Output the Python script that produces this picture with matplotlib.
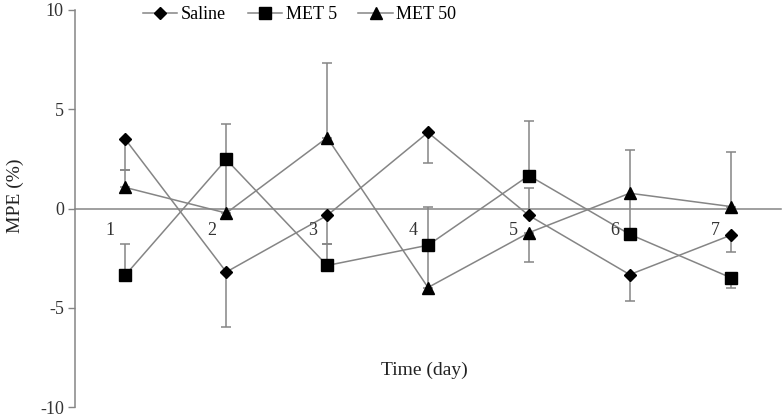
import matplotlib
matplotlib.use('Agg')

import matplotlib.pyplot as plt

plt.rcParams['font.family'] = ['Liberation Serif', 'DejaVu Serif']

# data
days = [1, 2, 3, 4, 5, 6, 7]
day_labels = ['1', '2', '3', '4', '5', '6', '7']

saline    = [3.48, -3.20, -0.35, 3.83, -0.35, -3.33, -1.35]
saline_lo = [1.52, 2.75, 1.45, 1.56, 0.0, 1.34, 0.82]
saline_hi = [0.0, 0.0, 0.0, 0.0, 1.40, 0.0, 0.0]

met5    = [-3.35, 2.47, -2.87, -1.85, 1.66, -1.30, -3.48]
met5_lo = [0.0, 0.0, 0.0, 0.0, 0.0, 0.0, 0.55]
met5_hi = [1.58, 1.81, 1.07, 0.0, 2.77, 0.0, 0.0]

met50    = [1.06, -0.23, 3.57, -3.98, -1.22, 0.77, 0.10]
met50_lo = [0.0, 0.0, 0.0, 0.0, 1.50, 2.07, 0.0]
met50_hi = [0.90, 2.70, 3.78, 4.08, 0.0, 2.20, 2.73]

yticks = [-10, -5, 0, 5, 10]

gray = '#858585'

fig = plt.figure(figsize=(7.84, 4.18), dpi=100)
ax = fig.add_axes([75/784, 1 - 407/418, (781 - 75)/784, (407 - 10)/418])

series = [
  ('Saline', saline, saline_lo, saline_hi, 'D', 6),
  ('MET 5', met5, met5_lo, met5_hi, 's', 8.5),
  ('MET 50', met50, met50_lo, met50_hi, '^', 8.5),
]

handles = []
for name, vals, lo, hi, mk, ms in series:
  ax.errorbar(days, vals, yerr=[lo, hi], fmt='none', ecolor=gray, elinewidth=1.1,
              capsize=3.5, capthick=1.1, zorder=2)
  h, = ax.plot(days, vals, color=gray, lw=1.1, marker=mk, markersize=ms,
               markerfacecolor='black', markeredgecolor='black', label=name, zorder=3)
  handles.append(h)

ax.set_xlim(0.5, 7.5)
ax.set_ylim(-10, 10)
ax.set_yticks(yticks)
ax.set_yticklabels([str(t) for t in yticks], fontsize=13, color='#333333')
ax.tick_params(axis='y', direction='out', length=5, width=1, color=gray, pad=3)
ax.set_xticks([])

ax.spines['top'].set_visible(False)
ax.spines['right'].set_visible(False)
ax.spines['bottom'].set_position(('data', 0))
ax.spines['left'].set_color(gray)
ax.spines['bottom'].set_color(gray)
ax.spines['left'].set_linewidth(1.1)
ax.spines['bottom'].set_linewidth(1.1)

# category labels sit a little left of and below each point
for d, lab in zip(days, day_labels):
  ax.annotate(lab, (d, 0), xytext=(-15, -22), textcoords='offset pixels',
              ha='center', va='center', fontsize=13, color='#333333')

fig.text(15/784, 1 - 196/418, 'MPE (%)', rotation=90, ha='center', va='center',
         fontsize=14, color='#222222')
fig.text(424/784, 1 - 370/418, 'Time (day)', ha='center', va='center',
         fontsize=14, color='#222222')

fig.legend(handles=handles, loc='upper left', bbox_to_anchor=(143/784, 1 - 6/418),
           ncol=3, frameon=False, fontsize=13, handlelength=1.9, handletextpad=0.2,
           columnspacing=1.2, borderaxespad=0, borderpad=0)

fig.savefig('out.png', dpi=100, facecolor='white')
